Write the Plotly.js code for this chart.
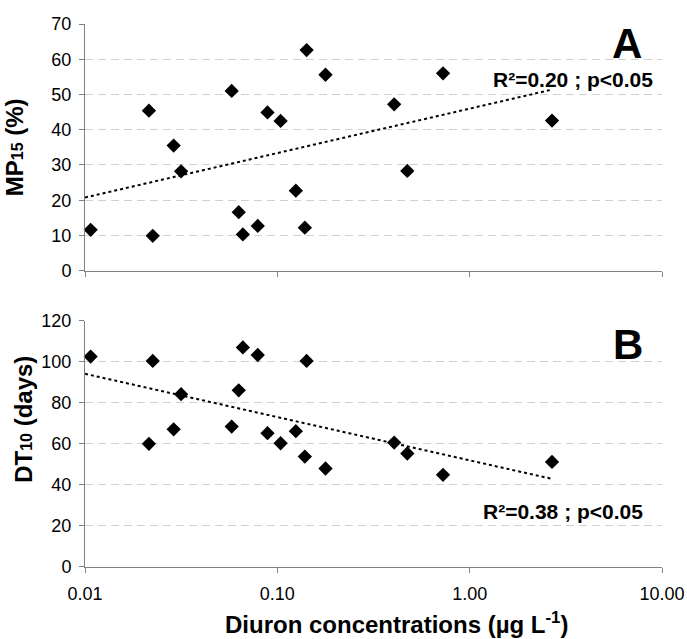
<!DOCTYPE html>
<html>
<head>
<meta charset="utf-8">
<script src="https://cdn.plot.ly/plotly-3.0.1.min.js"></script>
<style>html,body{margin:0;padding:0;background:#fff;}#chart{width:687px;height:639px;}</style>
</head>
<body>
<div id="chart"></div>
<script>
// Diuron concentrations (µg L-1) for each sample
const diuron = [0.0107, 0.0215, 0.0225, 0.0289, 0.0316, 0.0579, 0.063, 0.0662, 0.0791, 0.0889, 0.104, 0.1248, 0.139, 0.142, 0.178, 0.405, 0.474, 0.727, 2.68];
// Panel A: MP15 (%)
const mp15 = [11.6, 45.4, 9.9, 35.5, 28.2, 51.0, 16.6, 10.3, 12.7, 44.9, 42.5, 22.7, 12.2, 62.6, 55.6, 47.2, 28.3, 56.0, 42.6];
// Panel B: DT10 (days)
const dt10 = [102.5, 60.0, 100.4, 67.1, 84.2, 68.4, 86.1, 107.0, 103.3, 65.2, 60.3, 66.2, 53.8, 100.4, 48.0, 60.6, 55.3, 44.9, 51.2];
const xTickVals = [0.01, 0.1, 1, 10];
const xTickText = ["0.01", "0.10", "1.00", "10.00"];
const statA = "R²=0.20 ; p&lt;0.05";
const statB = "R²=0.38 ; p&lt;0.05";

function logFit(xs, ys) {
  const lx = xs.map(v => Math.log10(v));
  const n = lx.length;
  const mx = lx.reduce((a, b) => a + b, 0) / n;
  const my = ys.reduce((a, b) => a + b, 0) / n;
  let sxy = 0, sxx = 0;
  for (let i = 0; i < n; i++) { sxy += (lx[i] - mx) * (ys[i] - my); sxx += (lx[i] - mx) ** 2; }
  const b = sxy / sxx, a = my - b * mx;
  const x0 = 0.01, x1 = Math.max(...xs);
  return { x: [x0, x1], y: [a + b * Math.log10(x0), a + b * Math.log10(x1)] };
}
const fitA = logFit(diuron, mp15);
const fitB = logFit(diuron, dt10);

const FONT = "Liberation Sans, Arial, sans-serif";
const markerStyle = { symbol: "diamond", size: 11, color: "#000" };
const trendStyle = { color: "#000", width: 2, dash: "dot" };

const traces = [
  { x: diuron, y: mp15, xaxis: "x2", yaxis: "y2", mode: "markers", type: "scatter", marker: markerStyle, showlegend: false, cliponaxis: false },
  { x: fitA.x, y: fitA.y, xaxis: "x2", yaxis: "y2", mode: "lines", type: "scatter", line: trendStyle, showlegend: false },
  { x: diuron, y: dt10, xaxis: "x", yaxis: "y", mode: "markers", type: "scatter", marker: markerStyle, showlegend: false, cliponaxis: false },
  { x: fitB.x, y: fitB.y, xaxis: "x", yaxis: "y", mode: "lines", type: "scatter", line: trendStyle, showlegend: false }
];

const axisGray = "#808080";
const xCommon = {
  type: "log", range: [-2, 1], tickvals: xTickVals, ticktext: xTickText,
  showgrid: false, zeroline: false, showline: true, linecolor: axisGray, linewidth: 1,
  ticks: "outside", ticklen: 5, tickcolor: axisGray, tickwidth: 1,
  tickfont: { family: FONT, size: 18, color: "#000" }, ticklabelstandoff: 5
};
const yCommon = {
  showgrid: true, gridcolor: "#d0d0d0", griddash: "8px,5px", gridwidth: 1,
  zeroline: false, showline: true, linecolor: axisGray, linewidth: 1,
  ticks: "outside", ticklen: 5, tickcolor: axisGray, tickwidth: 1,
  tickfont: { family: FONT, size: 18, color: "#000" }, ticklabelstandoff: 4
};
const sub = s => "<span style='font-size:16px'>" + s + "</span>";

const layout = {
  width: 687, height: 639,
  margin: { l: 85, r: 25, t: 24, b: 72 },
  paper_bgcolor: "#fff", plot_bgcolor: "#fff",
  font: { family: FONT, color: "#000" },
  xaxis: Object.assign({}, xCommon, { anchor: "y", domain: [0, 1] }),
  xaxis2: Object.assign({}, xCommon, { anchor: "y2", domain: [0, 1], showticklabels: false, matches: "x" }),
  yaxis: Object.assign({}, yCommon, { anchor: "x", domain: [0, 0.4536], range: [0, 120], dtick: 20 }),
  yaxis2: Object.assign({}, yCommon, { anchor: "x2", domain: [0.5457, 1], range: [0, 70], dtick: 10,
    title: { text: "<b>MP" + sub("15") + " (%)</b>", font: { family: FONT, size: 24, color: "#000" }, standoff: 20 } }),
  annotations: [
    { xref: "paper", yref: "paper", x: 0.939, y: 0.965, text: "<b>A</b>", showarrow: false, font: { family: FONT, size: 42, color: "#000" }, xanchor: "center", yanchor: "middle" },
    { xref: "paper", yref: "paper", x: 0.846, y: 0.897, text: "<b>" + statA + "</b>", showarrow: false, font: { family: FONT, size: 21, color: "#000" }, xanchor: "center", yanchor: "middle" },
    { xref: "paper", yref: "paper", x: 0.941, y: 0.409, text: "<b>B</b>", showarrow: false, font: { family: FONT, size: 42, color: "#000" }, xanchor: "center", yanchor: "middle" },
    { xref: "paper", yref: "paper", x: 0.829, y: 0.102, text: "<b>" + statB + "</b>", showarrow: false, font: { family: FONT, size: 21, color: "#000" }, xanchor: "center", yanchor: "middle" },
    { xref: "paper", yref: "paper", x: -0.106, y: 0.2726, text: "<b>DT" + sub("10") + " (days)</b>", textangle: -90, showarrow: false, font: { family: FONT, size: 24, color: "#000" }, xanchor: "center", yanchor: "middle" },
    { xref: "paper", yref: "paper", x: 0.540, y: -0.103, text: "<b>Diuron concentrations (µg L<sup>-1</sup>)</b>", showarrow: false, font: { family: FONT, size: 24, color: "#000" }, xanchor: "center", yanchor: "middle" }
  ]
};

Plotly.newPlot("chart", traces, layout, { displayModeBar: false, staticPlot: true });
</script>
</body>
</html>
